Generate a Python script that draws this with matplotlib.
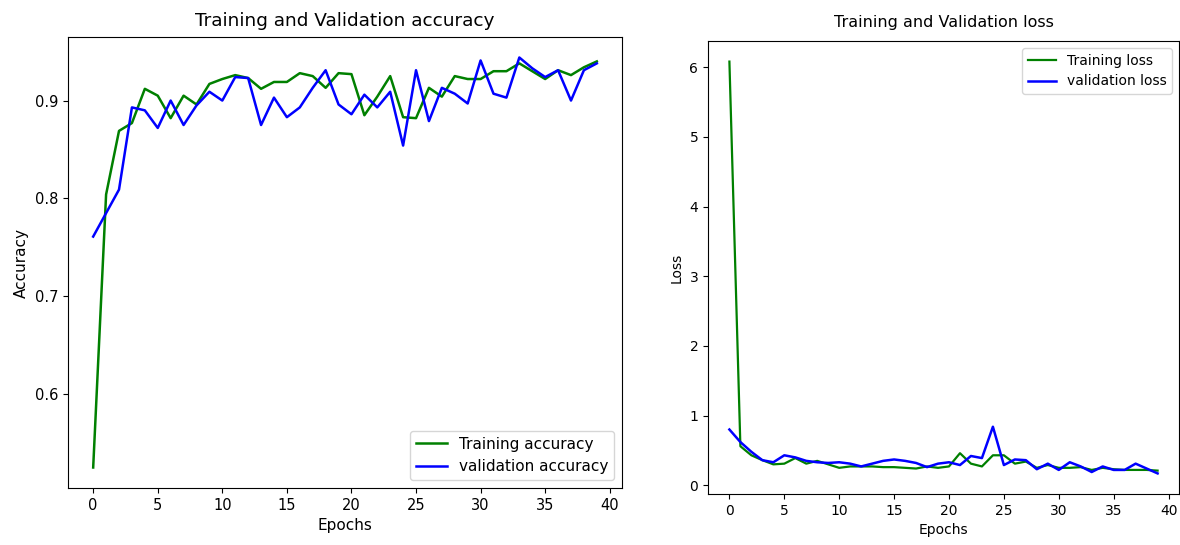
import matplotlib
matplotlib.use('Agg')
import matplotlib.pyplot as plt
from matplotlib import font_manager

epochs = list(range(40))

train_acc = [0.525, 0.804, 0.869, 0.877, 0.912, 0.905, 0.882, 0.905, 0.896, 0.917,
             0.922, 0.926, 0.923, 0.912, 0.919, 0.919, 0.928, 0.925, 0.913, 0.928,
             0.927, 0.885, 0.904, 0.925, 0.883, 0.882, 0.913, 0.904, 0.925, 0.922,
             0.922, 0.930, 0.930, 0.938, 0.930, 0.922, 0.931, 0.926, 0.934, 0.940]
val_acc = [0.761, 0.785, 0.809, 0.893, 0.890, 0.872, 0.900, 0.875, 0.895, 0.909,
           0.900, 0.924, 0.923, 0.875, 0.903, 0.883, 0.893, 0.913, 0.931, 0.896,
           0.886, 0.906, 0.893, 0.909, 0.854, 0.931, 0.879, 0.913, 0.907, 0.897,
           0.941, 0.907, 0.903, 0.944, 0.933, 0.924, 0.931, 0.900, 0.931, 0.938]

train_loss = [6.08, 0.56, 0.43, 0.36, 0.30, 0.31, 0.39, 0.31, 0.35, 0.30,
              0.25, 0.27, 0.27, 0.27, 0.26, 0.26, 0.25, 0.24, 0.27, 0.25,
              0.27, 0.46, 0.31, 0.27, 0.43, 0.43, 0.31, 0.34, 0.25, 0.29,
              0.25, 0.25, 0.26, 0.22, 0.25, 0.23, 0.22, 0.22, 0.22, 0.21]
val_loss = [0.80, 0.62, 0.48, 0.36, 0.33, 0.43, 0.40, 0.35, 0.33, 0.32,
            0.33, 0.31, 0.27, 0.31, 0.35, 0.37, 0.35, 0.32, 0.26, 0.31,
            0.33, 0.29, 0.42, 0.39, 0.84, 0.29, 0.37, 0.36, 0.23, 0.31,
            0.22, 0.33, 0.27, 0.19, 0.27, 0.22, 0.22, 0.31, 0.24, 0.17]

# the right panel in the reference has narrower text; use a narrow font if one exists
names = {f.name for f in font_manager.fontManager.ttflist}
narrow = 'DejaVu Sans'
for cand in ['Liberation Sans Narrow', 'DejaVu Sans Condensed']:
    if cand in names:
        narrow = cand
        break

fig = plt.figure(figsize=(11.8, 5.45), dpi=100)

# accuracy
ax1 = fig.add_axes([68 / 1180, 1 - 488 / 545, 554 / 1180, 451 / 545])
ax1.plot(epochs, train_acc, color='green', lw=1.8, label='Training accuracy')
ax1.plot(epochs, val_acc, color='blue', lw=1.8, label='validation accuracy')
ax1.set_title('Training and Validation accuracy', fontsize=13.3, pad=8)
ax1.set_xlabel('Epochs', fontsize=11)
ax1.set_ylabel('Accuracy', fontsize=11)
ax1.set_xticks([0, 5, 10, 15, 20, 25, 30, 35, 40])
ax1.set_yticks([0.6, 0.7, 0.8, 0.9])
ax1.tick_params(labelsize=10.5)
ax1.legend(loc='lower right', fontsize=11)

# loss
ax2 = fig.add_axes([708 / 1180, 1 - 494 / 545, 471 / 1180, 453 / 545])
ax2.plot(epochs, train_loss, color='green', lw=1.6, label='Training loss')
ax2.plot(epochs, val_loss, color='blue', lw=1.8, label='validation loss')
ax2.set_title('Training and Validation loss', fontsize=11.5, pad=10, family=narrow)
ax2.set_xlabel('Epochs', fontsize=10, family=narrow)
ax2.set_ylabel('Loss', fontsize=10, family=narrow)
ax2.set_xticks([0, 5, 10, 15, 20, 25, 30, 35, 40])
ax2.set_yticks([0, 1, 2, 3, 4, 5, 6])
ax2.tick_params(labelsize=10)
for lab in ax2.get_xticklabels() + ax2.get_yticklabels():
    lab.set_family(narrow)
ax2.legend(loc='upper right', prop={'family': narrow, 'size': 10})

fig.savefig('out.png', dpi=100)
